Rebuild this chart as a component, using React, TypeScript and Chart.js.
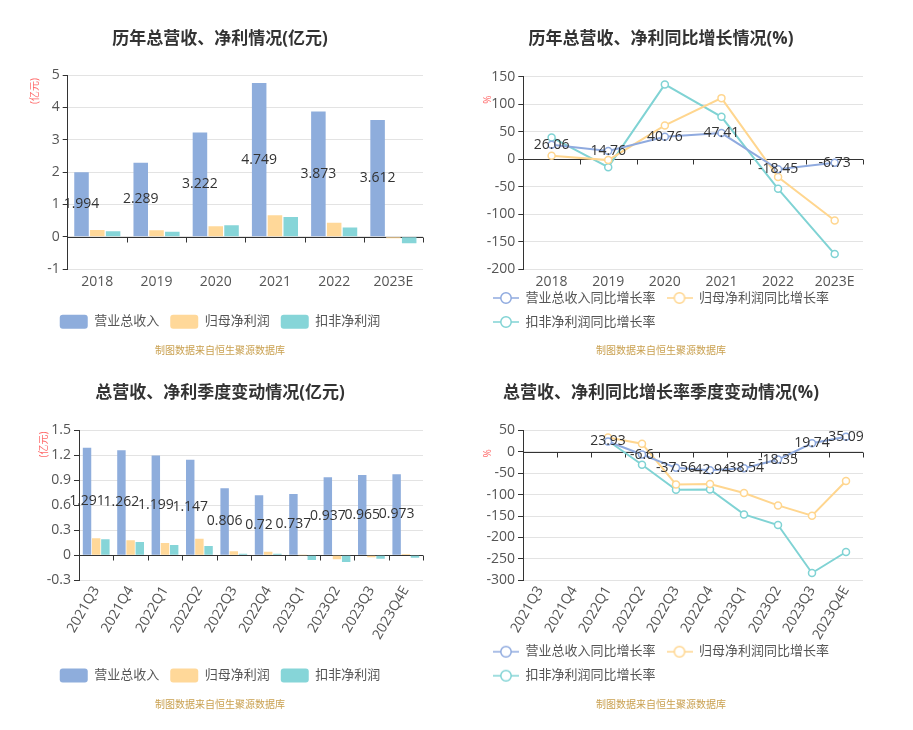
import React, { useEffect, useRef } from 'react';
import { Chart, registerables } from 'chart.js';

Chart.register(...registerables);

const FONT = "'Open Sans', 'Noto Sans CJK SC', sans-serif";

// ---------- data ----------
const years = ['2018', '2019', '2020', '2021', '2022', '2023E'];
const annualRevenue = [1.994, 2.289, 3.222, 4.749, 3.873, 3.612];
const annualNetProfit = [0.21, 0.2, 0.32, 0.66, 0.43, -0.05];
const annualDeductedProfit = [0.17, 0.15, 0.35, 0.61, 0.28, -0.2];

const annualRevenueGrowth = [26.06, 14.76, 40.76, 47.41, -18.45, -6.73];
const annualNetProfitGrowth = [6.1, -1.8, 61.3, 111, -32.7, -111.6];
const annualDeductedGrowth = [39.4, -14.6, 135.9, 77, -54, -172.9];

const quarters = ['2021Q3', '2021Q4', '2022Q1', '2022Q2', '2022Q3', '2022Q4', '2023Q1', '2023Q2', '2023Q3', '2023Q4E'];
const quarterRevenue = [1.291, 1.262, 1.199, 1.147, 0.806, 0.72, 0.737, 0.937, 0.965, 0.973];
const quarterNetProfit = [0.204, 0.18, 0.148, 0.2, 0.048, 0.044, 0.002, -0.048, -0.024, 0.016];
const quarterDeductedProfit = [0.192, 0.16, 0.124, 0.112, 0.02, 0.02, -0.056, -0.08, -0.04, -0.028];

const quarterRevenueGrowth = [null, null, 23.93, -6.6, -37.56, -42.94, -38.54, -18.35, 19.74, 35.09];
const quarterNetProfitGrowth = [null, null, 33.4, 18.7, -76.2, -75.4, -96.4, -125.2, -149.3, -68.4];
const quarterDeductedGrowth = [null, null, 25.7, -30.3, -88.7, -87.9, -146.2, -171, -283, -234];

const barNames = ['营业总收入', '归母净利润', '扣非净利润'];
const lineNames = ['营业总收入同比增长率', '归母净利润同比增长率', '扣非净利润同比增长率'];
const titles = [
  '历年总营收、净利情况(亿元)',
  '历年总营收、净利同比增长情况(%)',
  '总营收、净利季度变动情况(亿元)',
  '总营收、净利同比增长率季度变动情况(%)',
];
const sourceText = '制图数据来自恒生聚源数据库';
const annualAmountAxis = { min: -1, max: 5, step: 1 };
const annualGrowthAxis = { min: -200, max: 150, step: 50 };
const quarterAmountAxis = { min: -0.3, max: 1.5, step: 0.3 };
const quarterGrowthAxis = { min: -300, max: 50, step: 50 };

// ---------- styles ----------
const barColors = ['#8EADDC', '#FFD899', '#86D5D8'];
const lineColors = ['#8FAADF', '#FFD68F', '#80D3D4'];

type Spec = {
  left: number; top: number; title: string; titlePad: [number, number];
  padL: number; padR: number; padB: number; yWidth: number; xHeight: number; xPad: number; rotate: number;
  legendPad: number; legendShift: number; sourceY: number; alignRows: boolean;
  unit: string; unitPos: [number, number]; kind: 'bar' | 'line';
  labels: string[]; series: (number | null)[][]; names: string[]; colors: string[];
  axis: { min: number; max: number; step: number };
};

function lineIcon(color: string) {
  const c = document.createElement('canvas');
  c.width = 26;
  c.height = 14;
  const g = c.getContext('2d')!;
  g.strokeStyle = color;
  g.lineWidth = 1.5;
  g.beginPath();
  g.moveTo(0, 7);
  g.lineTo(26, 7);
  g.stroke();
  g.beginPath();
  g.arc(13, 7, 5.2, 0, Math.PI * 2);
  g.fillStyle = '#fff';
  g.fill();
  g.stroke();
  return c;
}

const extrasPlugin: any = {
  id: 'extras',
  afterLayout(chart: any, _a: any, opts: any) {
    const lg = chart.legend;
    if (!lg) return;
    if (opts.alignRows && Array.isArray(lg.lineWidths) && lg.lineWidths.length > 1) {
      const m = Math.max(...lg.lineWidths);
      lg.lineWidths = lg.lineWidths.map(() => m);
    }
    if (opts.legendShift) {
      lg.top += opts.legendShift;
      lg.bottom += opts.legendShift;
    }
  },
  beforeDatasetsDraw(chart: any) {
    const { ctx, chartArea, scales } = chart;
    const y0 = Math.round(scales.y.getPixelForValue(0)) + 0.5;
    const n = chart.data.labels.length;
    ctx.save();
    ctx.strokeStyle = '#333';
    ctx.lineWidth = 1;
    ctx.beginPath();
    ctx.moveTo(chartArea.left, y0);
    ctx.lineTo(chartArea.right, y0);
    for (let i = 1; i <= n; i++) {
      const x = Math.round(chartArea.left + (i * (chartArea.right - chartArea.left)) / n) + 0.5;
      ctx.moveTo(x, y0);
      ctx.lineTo(x, y0 + 5);
    }
    ctx.stroke();
    ctx.restore();
  },
  afterDatasetsDraw(chart: any, _a: any, opts: any) {
    const { ctx } = chart;
    const meta = chart.getDatasetMeta(0);
    const values = chart.data.datasets[0].data;
    ctx.save();
    ctx.font = `14px ${FONT}`;
    ctx.fillStyle = '#333';
    ctx.textAlign = 'center';
    ctx.textBaseline = 'middle';
    meta.data.forEach((el: any, i: number) => {
      const v = values[i];
      if (v == null) return;
      const y = opts.kind === 'bar' ? (el.y + el.base) / 2 : el.y;
      ctx.fillText(String(v), el.x, y);
    });
    ctx.restore();
  },
  afterDraw(chart: any, _a: any, opts: any) {
    const { ctx } = chart;
    ctx.save();
    ctx.textAlign = 'center';
    ctx.textBaseline = 'middle';
    ctx.font = `10px ${FONT}`;
    ctx.fillStyle = '#C9A04F';
    ctx.fillText(opts.source, 220, opts.sourceY);
    ctx.translate(opts.unitX, opts.unitY);
    ctx.rotate(-Math.PI / 2);
    ctx.fillStyle = '#ff6b6b';
    ctx.fillText(opts.unit, 0, 0);
    ctx.restore();
  },
};

function buildConfig(s: Spec): any {
  const isBar = s.kind === 'bar';
  const datasets = s.series.map((data, i) =>
    isBar
      ? {
          label: s.names[i], data, backgroundColor: s.colors[i], borderWidth: 0,
          categoryPercentage: 0.8, barPercentage: 0.92,
        }
      : {
          label: s.names[i], data, borderColor: s.colors[i], backgroundColor: s.colors[i],
          borderWidth: 2, pointRadius: 3.5, pointBorderWidth: 1.5, pointBackgroundColor: '#fff',
          pointBorderColor: s.colors[i], tension: 0,
        }
  );
  const icons = isBar ? [] : s.colors.map(lineIcon);
  const legendLabels: any = isBar
    ? { boxWidth: 28, boxHeight: 14, useBorderRadius: true, borderRadius: 3 }
    : {
        usePointStyle: true, pointStyleWidth: 26, boxHeight: 13,
        generateLabels: (chart: any) =>
          (Chart.defaults.plugins.legend.labels as any).generateLabels(chart).map((it: any, i: number) => ({
            ...it, pointStyle: icons[i],
          })),
      };
  return {
    type: s.kind,
    data: { labels: s.labels, datasets },
    options: {
      responsive: false,
      animation: false,
      devicePixelRatio: 1,
      layout: { padding: { left: s.padL, right: s.padR, top: 0, bottom: s.padB } },
      plugins: {
        tooltip: { enabled: false },
        title: {
          display: true, text: s.title, color: '#333',
          font: { family: FONT, size: 17, weight: 'bold' },
          padding: { top: s.titlePad[0], bottom: s.titlePad[1] },
        },
        legend: {
          display: true, position: 'bottom', align: 'center',
          labels: { ...legendLabels, padding: s.legendPad, color: '#555', font: { family: FONT, size: 13 } },
        },
        extras: {
          kind: s.kind, unit: s.unit, unitX: s.unitPos[0], unitY: s.unitPos[1], alignRows: s.alignRows,
          legendShift: s.legendShift, source: sourceText, sourceY: s.sourceY,
        },
      },
      scales: {
        x: {
          type: 'category', offset: true,
          grid: { display: false, drawTicks: false },
          border: { display: false },
          ticks: {
            color: '#555', font: { family: FONT, size: 14 }, padding: s.xPad,
            autoSkip: false, maxRotation: s.rotate, minRotation: s.rotate,
          },
          afterFit: (sc: any) => { sc.height = s.xHeight; },
        },
        y: {
          min: s.axis.min, max: s.axis.max,
          ticks: { stepSize: s.axis.step, color: '#555', font: { family: FONT, size: 14 }, padding: 3 },
          grid: { color: '#E3E3E3', tickLength: 5, tickColor: '#333', drawTicks: true },
          border: { display: true, color: '#333' },
          afterFit: (sc: any) => { sc.width = s.yWidth; },
        },
      },
    },
    plugins: [extrasPlugin],
  };
}

const specs: Spec[] = [
  {
    left: 0, top: 0, title: titles[0], titlePad: [28.8, 25.8], padL: 17, padR: 17, padB: 26.3, yWidth: 50.7,
    xHeight: 34.7, xPad: 4.3, rotate: 0, legendPad: 11, legendShift: 0, sourceY: 351, alignRows: false,
    unit: '(亿元)', unitPos: [35, 91], kind: 'bar', labels: years,
    series: [annualRevenue, annualNetProfit, annualDeductedProfit], names: barNames, colors: barColors,
    axis: annualAmountAxis,
  },
  {
    left: 441, top: 0, title: titles[1], titlePad: [28.8, 27.5], padL: 18, padR: 18, padB: 14, yWidth: 64.3,
    xHeight: 24, xPad: 4.3, rotate: 0, legendPad: 11, legendShift: -12.5, sourceY: 350.7, alignRows: true,
    unit: '%', unitPos: [47, 99.5], kind: 'line', labels: years,
    series: [annualRevenueGrowth, annualNetProfitGrowth, annualDeductedGrowth], names: lineNames, colors: lineColors,
    axis: annualGrowthAxis,
  },
  {
    left: 0, top: 365, title: titles[2], titlePad: [17.8, 27.1], padL: 17, padR: 17, padB: 37.4, yWidth: 62,
    xHeight: 77.3, xPad: 3, rotate: 60, legendPad: 11, legendShift: 0, sourceY: 340, alignRows: false,
    unit: '(亿元)', unitPos: [44, 79.5], kind: 'bar', labels: quarters,
    series: [quarterRevenue, quarterNetProfit, quarterDeductedProfit], names: barNames, colors: barColors,
    axis: quarterAmountAxis,
  },
  {
    left: 441, top: 365, title: titles[3], titlePad: [17.8, 27.1], padL: 18, padR: 18, padB: 27.7, yWidth: 64,
    xHeight: 64, xPad: 3, rotate: 60, legendPad: 11, legendShift: -10.1, sourceY: 340, alignRows: true,
    unit: '%', unitPos: [47.3, 88.3], kind: 'line', labels: quarters,
    series: [quarterRevenueGrowth, quarterNetProfitGrowth, quarterDeductedGrowth], names: lineNames, colors: lineColors,
    axis: quarterGrowthAxis,
  },
];

function Panel({ spec }: { spec: Spec }) {
  const ref = useRef<HTMLCanvasElement>(null);
  useEffect(() => {
    const chart = new Chart(ref.current as HTMLCanvasElement, buildConfig(spec));
    return () => chart.destroy();
  }, [spec]);
  return (
    <canvas
      ref={ref}
      width={440}
      height={365}
      style={{ position: 'absolute', left: spec.left, top: spec.top, width: 440, height: 365, display: 'block' }}
    />
  );
}

export default function App() {
  return (
    <div style={{ position: 'absolute', left: 0, top: 0, width: 913, height: 730, background: '#fff' }}>
      {specs.map((s, i) => (
        <Panel key={i} spec={s} />
      ))}
    </div>
  );
}
